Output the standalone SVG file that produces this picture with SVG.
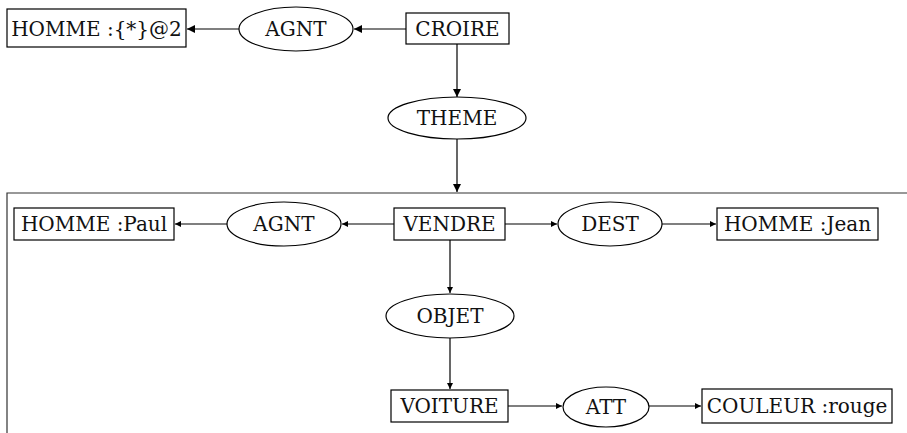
<svg xmlns="http://www.w3.org/2000/svg" width="907" height="433" viewBox="0 0 907 433">
<style>
.n rect, .n ellipse { fill: #fff; stroke: #000; stroke-width: 1.2; }
.n text { font-family: "DejaVu Serif", serif; font-size: 20px; fill: #111; text-anchor: middle; }
.c line, .c path { stroke: #000; stroke-width: 1.2; fill: none; }
.c .a { marker-end: url(#ah); }
.c .b { marker-end: url(#ahs); }
</style>
<defs>
<marker id="ah" viewBox="0 0 10 10" refX="10" refY="5" markerWidth="8" markerHeight="8" markerUnits="userSpaceOnUse" orient="auto">
<path d="M0,0 L10,5 L0,10 z" fill="#000"/>
</marker>
<marker id="ahs" viewBox="0 0 10 10" refX="10" refY="5" markerWidth="6" markerHeight="6" markerUnits="userSpaceOnUse" orient="auto">
<path d="M0,0 L10,5 L0,10 z" fill="#000"/>
</marker>
</defs>

<g id="frame">
<path d="M7,433 L7,193 L907,193" fill="none" stroke="#333" stroke-width="1.2"/>
</g>

<g class="c" id="connectors">
<line class="a" x1="406" y1="29" x2="354" y2="29"/>
<line class="a" x1="239" y1="29" x2="187" y2="29"/>
<line class="a" x1="457" y1="44" x2="457" y2="97"/>
<line class="a" x1="457" y1="139" x2="457" y2="192"/>
<line class="b" x1="394" y1="224" x2="342" y2="224"/>
<line class="b" x1="228" y1="224" x2="175" y2="224"/>
<line class="b" x1="505" y1="224" x2="557" y2="224"/>
<line class="b" x1="662" y1="224" x2="716" y2="224"/>
<line class="b" x1="450" y1="240" x2="450" y2="293"/>
<line class="b" x1="450" y1="338" x2="450" y2="389"/>
<line class="b" x1="508" y1="406" x2="562" y2="406"/>
<line class="b" x1="649" y1="406" x2="701" y2="406"/>
</g>

<g class="n" id="homme2"><rect x="7" y="9" width="179" height="38"/><text x="96.5" y="36">HOMME :{*}@2</text></g>
<g class="n" id="agnt1"><ellipse cx="296" cy="29" rx="57" ry="22"/><text x="296" y="36">AGNT</text></g>
<g class="n" id="croire"><rect x="406" y="13" width="103" height="31"/><text x="457.5" y="36">CROIRE</text></g>
<g class="n" id="theme"><ellipse cx="457" cy="118" rx="69" ry="21"/><text x="457" y="125">THEME</text></g>

<g class="n" id="paul"><rect x="14" y="208" width="160" height="32"/><text x="94" y="231">HOMME :Paul</text></g>
<g class="n" id="agnt2"><ellipse cx="284" cy="224" rx="57" ry="22"/><text x="284" y="231">AGNT</text></g>
<g class="n" id="vendre"><rect x="394" y="208" width="111" height="32"/><text x="449.5" y="231">VENDRE</text></g>
<g class="n" id="dest"><ellipse cx="610" cy="224" rx="52" ry="22"/><text x="610" y="231">DEST</text></g>
<g class="n" id="jean"><rect x="717" y="208" width="161" height="32"/><text x="797.5" y="231">HOMME :Jean</text></g>
<g class="n" id="objet"><ellipse cx="450" cy="316" rx="64" ry="22"/><text x="450" y="323">OBJET</text></g>
<g class="n" id="voiture"><rect x="391" y="390" width="117" height="32"/><text x="449.5" y="413">VOITURE</text></g>
<g class="n" id="att"><ellipse cx="606" cy="407" rx="43" ry="20"/><text x="606" y="414">ATT</text></g>
<g class="n" id="couleur"><rect x="702" y="389" width="190" height="34"/><text x="797" y="413">COULEUR :rouge</text></g>
</svg>
